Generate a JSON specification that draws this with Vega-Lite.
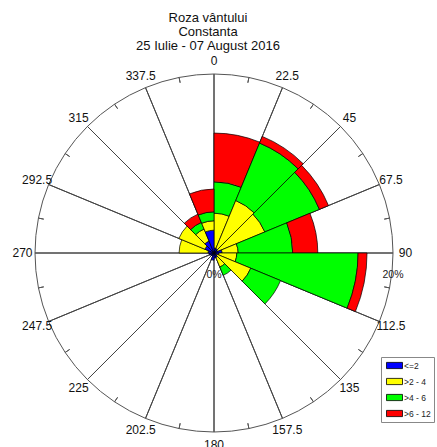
{
  "$schema": "https://vega.github.io/schema/vega-lite/v6.json",
  "width": 428,
  "height": 386,
  "autosize": {"type": "none"},
  "padding": {"left": 0, "top": 60, "right": 9, "bottom": 1},
  "background": "white",
  "title": {
    "text": ["Roza vântului", "Constanta", "25 Iulie - 07 August 2016"],
    "fontSize": 13,
    "fontWeight": "normal",
    "color": "#111111",
    "lineHeight": 14,
    "anchor": "middle",
    "baseline": "bottom",
    "dx": -6,
    "offset": -11
  },
  "config": {
    "font": "Liberation Sans",
    "view": {"stroke": null}
  },
  "layer": [
    {
      "data": {"values": [
        {"a": 0}, {"a": 22.5}, {"a": 45}, {"a": 67.5}, {"a": 90}, {"a": 112.5}, {"a": 135}, {"a": 157.5},
        {"a": 180}, {"a": 202.5}, {"a": 225}, {"a": 247.5}, {"a": 270}, {"a": 292.5}, {"a": 315}, {"a": 337.5}
      ]},
      "mark": {"type": "arc", "filled": false, "stroke": "#444444", "strokeWidth": 1},
      "encoding": {
        "theta": {"field": "a", "type": "quantitative", "scale": {"domain": [0, 360], "range": [0, 6.283185307179586]}},
        "theta2": {"field": "a"},
        "radius": {"datum": 20, "type": "quantitative", "scale": {"type": "linear", "domain": [0, 20], "range": [0, 179], "zero": true}},
        "radius2": {"datum": 0}
      }
    },
    {
      "data": {"values": [
        {"a0": 0, "a1": 22.5, "cls": "<=2", "lo": 0, "hi": 0.55},
        {"a0": 0, "a1": 22.5, "cls": ">2 - 4", "lo": 0.55, "hi": 4.45},
        {"a0": 0, "a1": 22.5, "cls": ">4 - 6", "lo": 4.45, "hi": 7.95},
        {"a0": 0, "a1": 22.5, "cls": ">6 - 12", "lo": 7.95, "hi": 13.4},
        {"a0": 22.5, "a1": 45, "cls": "<=2", "lo": 0, "hi": 0.55},
        {"a0": 22.5, "a1": 45, "cls": ">2 - 4", "lo": 0.55, "hi": 6.35},
        {"a0": 22.5, "a1": 45, "cls": ">4 - 6", "lo": 6.35, "hi": 13.3},
        {"a0": 22.5, "a1": 45, "cls": ">6 - 12", "lo": 13.3, "hi": 14.1},
        {"a0": 45, "a1": 67.5, "cls": "<=2", "lo": 0, "hi": 0.45},
        {"a0": 45, "a1": 67.5, "cls": ">2 - 4", "lo": 0.45, "hi": 6.15},
        {"a0": 45, "a1": 67.5, "cls": ">4 - 6", "lo": 6.15, "hi": 12.75},
        {"a0": 45, "a1": 67.5, "cls": ">6 - 12", "lo": 12.75, "hi": 13.85},
        {"a0": 67.5, "a1": 90, "cls": "<=2", "lo": 0, "hi": 0.9},
        {"a0": 67.5, "a1": 90, "cls": ">2 - 4", "lo": 0.9, "hi": 2.7},
        {"a0": 67.5, "a1": 90, "cls": ">4 - 6", "lo": 2.7, "hi": 8.8},
        {"a0": 67.5, "a1": 90, "cls": ">6 - 12", "lo": 8.8, "hi": 11.6},
        {"a0": 90, "a1": 112.5, "cls": "<=2", "lo": 0, "hi": 0.55},
        {"a0": 90, "a1": 112.5, "cls": ">2 - 4", "lo": 0.55, "hi": 2.55},
        {"a0": 90, "a1": 112.5, "cls": ">4 - 6", "lo": 2.55, "hi": 16.1},
        {"a0": 90, "a1": 112.5, "cls": ">6 - 12", "lo": 16.1, "hi": 17.1},
        {"a0": 112.5, "a1": 135, "cls": "<=2", "lo": 0, "hi": 0.35},
        {"a0": 112.5, "a1": 135, "cls": ">2 - 4", "lo": 0.35, "hi": 4.45},
        {"a0": 112.5, "a1": 135, "cls": ">4 - 6", "lo": 4.45, "hi": 8.05},
        {"a0": 135, "a1": 157.5, "cls": "<=2", "lo": 0, "hi": 0.55},
        {"a0": 135, "a1": 157.5, "cls": ">2 - 4", "lo": 0.55, "hi": 1.7},
        {"a0": 135, "a1": 157.5, "cls": ">4 - 6", "lo": 1.7, "hi": 2.7},
        {"a0": 157.5, "a1": 180, "cls": "<=2", "lo": 0, "hi": 0.55},
        {"a0": 180, "a1": 202.5, "cls": "<=2", "lo": 0, "hi": 0.8},
        {"a0": 202.5, "a1": 225, "cls": "<=2", "lo": 0, "hi": 0.35},
        {"a0": 225, "a1": 247.5, "cls": "<=2", "lo": 0, "hi": 0.45},
        {"a0": 247.5, "a1": 270, "cls": "<=2", "lo": 0, "hi": 0.55},
        {"a0": 270, "a1": 292.5, "cls": "<=2", "lo": 0, "hi": 0.67},
        {"a0": 270, "a1": 292.5, "cls": ">2 - 4", "lo": 0.67, "hi": 3.9},
        {"a0": 292.5, "a1": 315, "cls": "<=2", "lo": 0, "hi": 1.1},
        {"a0": 292.5, "a1": 315, "cls": ">2 - 4", "lo": 1.1, "hi": 4.25},
        {"a0": 315, "a1": 337.5, "cls": "<=2", "lo": 0, "hi": 1.45},
        {"a0": 315, "a1": 337.5, "cls": ">2 - 4", "lo": 1.45, "hi": 2.9},
        {"a0": 315, "a1": 337.5, "cls": ">4 - 6", "lo": 2.9, "hi": 3.7},
        {"a0": 315, "a1": 337.5, "cls": ">6 - 12", "lo": 3.7, "hi": 4.7},
        {"a0": 337.5, "a1": 360, "cls": "<=2", "lo": 0, "hi": 2.55},
        {"a0": 337.5, "a1": 360, "cls": ">2 - 4", "lo": 2.55, "hi": 3.6},
        {"a0": 337.5, "a1": 360, "cls": ">4 - 6", "lo": 3.6, "hi": 4.6},
        {"a0": 337.5, "a1": 360, "cls": ">6 - 12", "lo": 4.6, "hi": 7.15}
      ]},
      "mark": {"type": "arc", "stroke": "#000000", "strokeWidth": 0.7},
      "encoding": {
        "theta": {"field": "a0", "type": "quantitative", "scale": {"domain": [0, 360], "range": [0, 6.283185307179586]}},
        "theta2": {"field": "a1"},
        "radius": {"field": "hi", "type": "quantitative", "scale": {"type": "linear", "domain": [0, 20], "range": [0, 179], "zero": true}},
        "radius2": {"field": "lo"},
        "color": {
          "field": "cls",
          "type": "nominal",
          "scale": {"domain": ["<=2", ">2 - 4", ">4 - 6", ">6 - 12"], "range": ["#0000ff", "#ffff00", "#00ff00", "#ff0000"]},
          "legend": {
            "title": null,
            "orient": "none",
            "legendX": 381,
            "legendY": 297,
            "symbolType": "M-1.6,-0.62H1.6V0.62H-1.6Z",
            "symbolSize": 100,
            "symbolOffset": 5,
            "symbolStrokeColor": "#000000",
            "symbolStrokeWidth": 0.8,
            "labelFontSize": 8.5,
            "labelColor": "#222222",
            "labelOffset": 4,
            "rowPadding": 5,
            "padding": 3,
            "strokeColor": "#888888",
            "fillColor": "white"
          }
        }
      }
    },
    {
      "data": {"values": [{"k": 1}]},
      "mark": {"type": "arc", "filled": false, "stroke": "#555555", "strokeWidth": 1},
      "encoding": {
        "theta": {"datum": 0, "type": "quantitative", "scale": {"domain": [0, 360], "range": [0, 6.283185307179586]}},
        "theta2": {"datum": 360},
        "radius": {"datum": 20, "type": "quantitative", "scale": {"type": "linear", "domain": [0, 20], "range": [0, 179], "zero": true}}
      }
    },
    {
      "data": {"values": [
        {"a": 11.25}, {"a": 33.75}, {"a": 56.25}, {"a": 78.75}, {"a": 101.25}, {"a": 123.75}, {"a": 146.25}, {"a": 168.75},
        {"a": 191.25}, {"a": 213.75}, {"a": 236.25}, {"a": 258.75}, {"a": 281.25}, {"a": 303.75}, {"a": 326.25}, {"a": 348.75}
      ]},
      "mark": {"type": "arc", "filled": false, "stroke": "#555555", "strokeWidth": 1},
      "encoding": {
        "theta": {"field": "a", "type": "quantitative", "scale": {"domain": [0, 360], "range": [0, 6.283185307179586]}},
        "theta2": {"field": "a"},
        "radius": {"datum": 20, "type": "quantitative", "scale": {"type": "linear", "domain": [0, 20], "range": [0, 179], "zero": true}},
        "radius2": {"datum": 19.4}
      }
    },
    {
      "data": {"values": [
        {"a": 0, "lab": "0"}, {"a": 22.5, "lab": "22.5"}, {"a": 45, "lab": "45"}, {"a": 67.5, "lab": "67.5"},
        {"a": 90, "lab": "90"}, {"a": 112.5, "lab": "112.5"}, {"a": 135, "lab": "135"}, {"a": 157.5, "lab": "157.5"},
        {"a": 180, "lab": "180"}, {"a": 202.5, "lab": "202.5"}, {"a": 225, "lab": "225"}, {"a": 247.5, "lab": "247.5"},
        {"a": 270, "lab": "270"}, {"a": 292.5, "lab": "292.5"}, {"a": 315, "lab": "315"}, {"a": 337.5, "lab": "337.5"}
      ]},
      "mark": {"type": "text", "fontSize": 12, "color": "#111111", "align": "center", "baseline": "middle"},
      "encoding": {
        "theta": {"field": "a", "type": "quantitative", "scale": {"domain": [0, 360], "range": [0, 6.283185307179586]}},
        "radius": {"datum": 21.4, "type": "quantitative", "scale": {"type": "linear", "domain": [0, 20], "range": [0, 179], "zero": true}},
        "text": {"field": "lab", "type": "nominal"}
      }
    },
    {
      "data": {"values": [{"p": 0, "lab": "0%"}, {"p": 20, "lab": "20%"}]},
      "mark": {"type": "text", "fontSize": 10.5, "color": "#222222", "align": "center", "baseline": "middle", "dy": 22},
      "encoding": {
        "theta": {"datum": 90, "type": "quantitative", "scale": {"domain": [0, 360], "range": [0, 6.283185307179586]}},
        "radius": {"field": "p", "type": "quantitative", "scale": {"type": "linear", "domain": [0, 20], "range": [0, 179], "zero": true}},
        "text": {"field": "lab", "type": "nominal"}
      }
    }
  ]
}
